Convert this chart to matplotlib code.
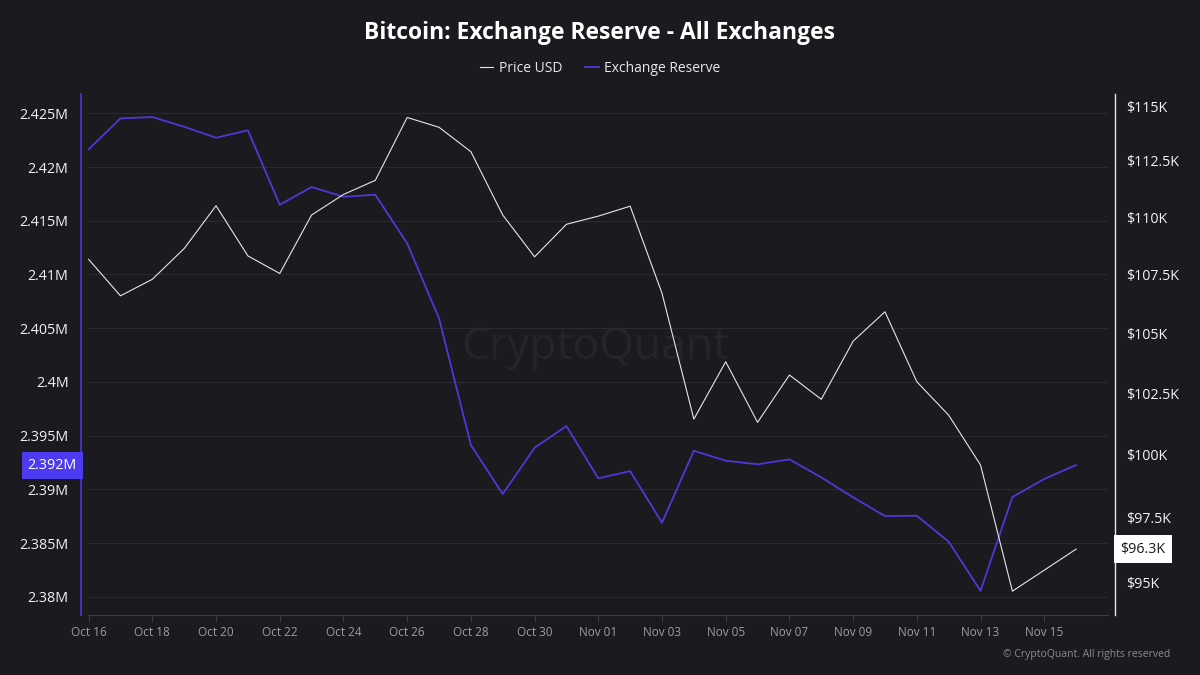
import matplotlib
matplotlib.use("Agg")
import matplotlib.pyplot as plt
import matplotlib.dates as mdates
from matplotlib.ticker import FixedLocator, FuncFormatter, NullLocator
import pandas as pd

# daily data, Oct 16 - Nov 16
dates = pd.date_range("2025-10-16", "2025-11-16", freq="D")
reserve_m = [2.42165, 2.42453, 2.42466, 2.42375, 2.42273, 2.42342, 2.41649, 2.41814,
             2.41724, 2.41742, 2.41290, 2.40592, 2.39412, 2.38956, 2.39387, 2.39589,
             2.39102, 2.39170, 2.38689, 2.39359, 2.39266, 2.39233, 2.39279, 2.39111,
             2.38925, 2.38751, 2.38754, 2.38512, 2.38055, 2.38928, 2.39096, 2.39226]
price_k = [108.15, 106.58, 107.29, 108.62, 110.50, 108.30, 107.54, 110.09,
           111.00, 111.63, 114.48, 114.03, 112.92, 110.09, 108.26, 109.68,
           110.04, 110.48, 106.69, 101.44, 103.80, 101.31, 103.25, 102.25,
           104.66, 105.90, 102.97, 101.60, 99.59, 94.68, 95.48, 96.29]
reserve_ticks = [2.38, 2.385, 2.39, 2.395, 2.4, 2.405, 2.41, 2.415, 2.42, 2.425]
price_ticks = [95, 97.5, 100, 102.5, 105, 107.5, 110, 112.5, 115]

bg = "#1b1a1f"
purple = "#4a3ad8"
white = "#e6e6e8"
grid_c = "#2a2a30"
plt.rcParams["font.family"] = ["Open Sans", "DejaVu Sans"]

fig = plt.figure(figsize=(12, 6.75), dpi=100, facecolor=bg)
ax = fig.add_axes([0.0733, 0.0889, 0.85, 0.7718], facecolor=bg)
ax2 = ax.twinx()

# watermark
ax.text(0.497, 0.513, "CryptoQuant", transform=ax.transAxes, ha="center", va="center",
        fontsize=32, color="#24242a", zorder=0)

ax.plot(dates, reserve_m, color=purple, lw=1.3, label="Exchange Reserve", zorder=3)
ax2.plot(dates, price_k, color=white, lw=0.8, label="Price USD", zorder=3)

ax.set_xlim(dates[0] - pd.Timedelta(hours=0.5), dates[0] + pd.Timedelta(days=32))
ax.set_ylim(2.3783, 2.4268)
ax2.set_yscale("log")
ax2.set_ylim(93.78, 115.56)

ax.set_yticks(reserve_ticks)
ax.yaxis.set_major_formatter(FuncFormatter(lambda v, p: f"{v:g}M"))
ax2.yaxis.set_major_locator(FixedLocator(price_ticks))
ax2.yaxis.set_minor_locator(NullLocator())
ax2.yaxis.set_major_formatter(FuncFormatter(lambda v, p: f"${v:g}K"))

ax.set_xticks(dates[::2])
ax.xaxis.set_major_formatter(mdates.DateFormatter("%b %d"))

ax.grid(axis="y", color=grid_c, lw=0.8)
ax.set_axisbelow(True)

ax.tick_params(axis="y", length=0, pad=9, labelsize=10.3, labelcolor="#f2f2f4")
ax2.tick_params(axis="y", length=0, pad=8, labelsize=10.3, labelcolor="#f2f2f4")
ax.tick_params(axis="x", length=5, width=0.8, color="#3b3b42", pad=3,
               labelsize=8.5, labelcolor="#9d9da3")

for a in (ax, ax2):
    a.spines["top"].set_visible(False)
ax.spines["right"].set_visible(False)
ax2.spines["left"].set_visible(False)
ax2.spines["bottom"].set_visible(False)
ax.spines["left"].set_color(purple)
ax.spines["left"].set_linewidth(1.2)
ax.spines["left"].set_position(("outward", 5))
ax2.spines["right"].set_color(white)
ax2.spines["right"].set_linewidth(1.0)
ax2.spines["right"].set_position(("outward", 5))
ax.spines["bottom"].set_color("#3b3b42")

# last value boxes
ax.annotate(f"{reserve_m[-1]:.3f}M", xy=(0, reserve_m[-1]), xycoords=("axes fraction", "data"),
            xytext=(-8, 0), textcoords="offset points", ha="right", va="center",
            fontsize=10.3, color="white",
            bbox=dict(boxstyle="square,pad=0.42", fc="#4d3bef", ec="none"))
ax2.annotate(f"${price_k[-1]:.1f}K", xy=(1, price_k[-1]), xycoords=("axes fraction", "data"),
             xytext=(9, 0), textcoords="offset points", ha="left", va="center",
             fontsize=10.3, color="#1b1a1f",
             bbox=dict(boxstyle="square,pad=0.45", fc="white", ec="none"))

fig.text(0.5, 0.951, "Bitcoin: Exchange Reserve - All Exchanges", ha="center", va="center",
         fontsize=16.5, fontweight="bold", color="white")

h1, l1 = ax2.get_legend_handles_labels()
h2, l2 = ax.get_legend_handles_labels()
fig.legend(h1 + h2, l1 + l2, loc="center", bbox_to_anchor=(0.5, 0.899), ncol=2,
           frameon=False, fontsize=10, labelcolor="#e8e8ea", handlelength=1.0,
           handletextpad=0.4, columnspacing=1.6)

fig.text(0.975, 0.031, "© CryptoQuant. All rights reserved", ha="right", va="center",
         fontsize=7.5, color="#8a8a90")

fig.savefig("out.png", dpi=100, facecolor=bg)
